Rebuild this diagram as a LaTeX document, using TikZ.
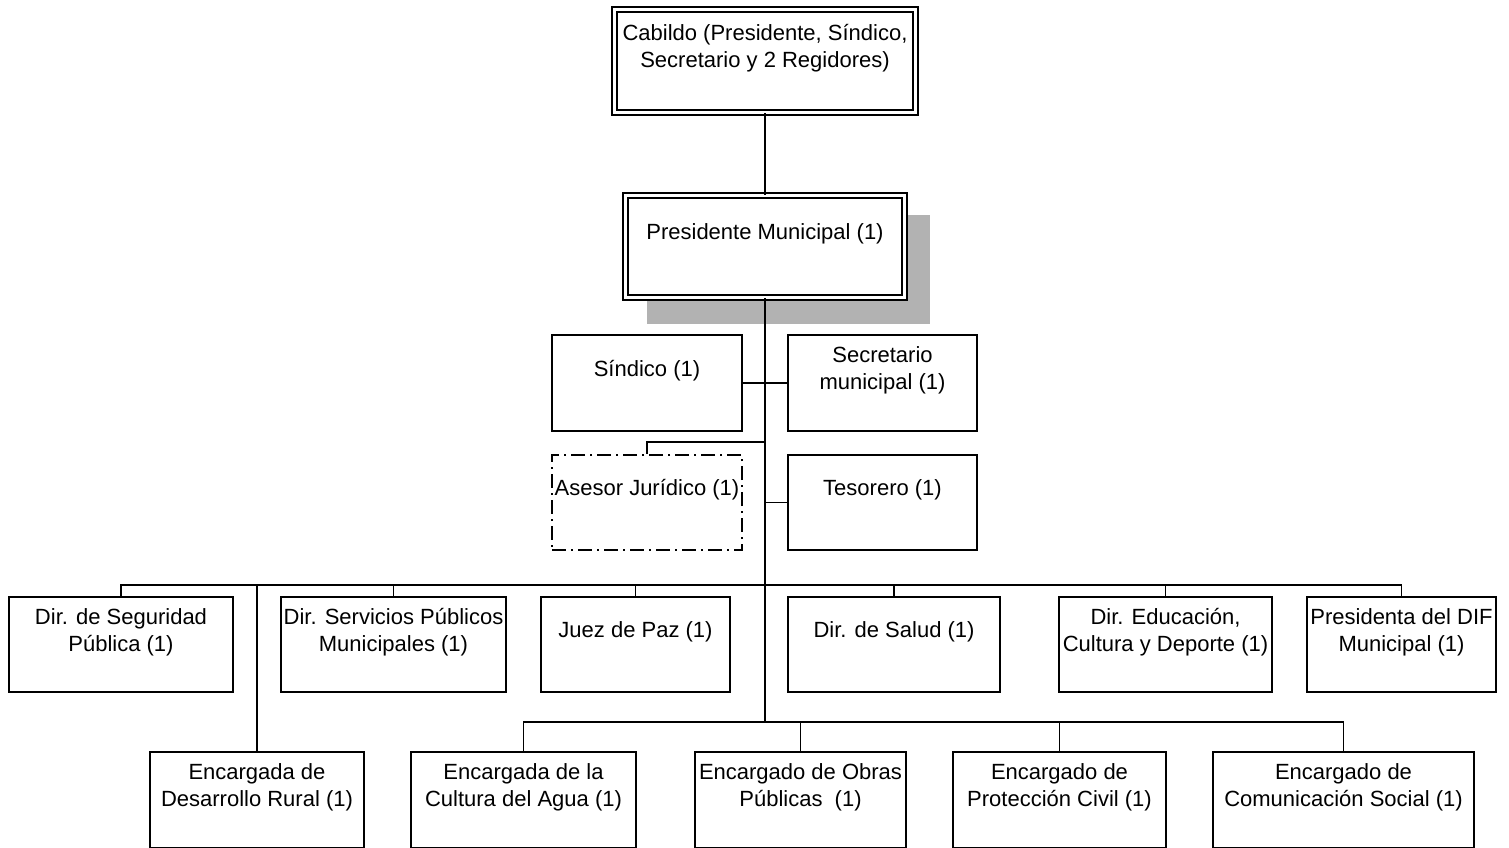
\documentclass[tikz,border=0pt]{standalone}
\usepackage{fontspec}
\setmainfont{Liberation Sans}
\usetikzlibrary{calc}
\def\boxtext#1#2#3{\parbox[c][#2][c]{#1}{\centering #3\par\kern12.5pt}}

\tikzset{
  box/.style={draw, fill=white, line width=0.9pt, inner sep=0pt, font=\fontsize{11}{13.5}\selectfont},
  headbox/.style={box, double, double distance=1.6pt},
  advisorbox/.style={box, dash pattern=on 7pt off 2.5pt on 1pt off 2.5pt},
  link/.style={line width=0.9pt},
}

\begin{document}
\begin{tikzpicture}[x=0.5pt, y=-0.5pt]
			%%%%% START %%%%%
			\useasboundingbox (0,0) rectangle (1509,847);
			\clip (0,0) rectangle (1509,847);
			
			\fill[gray!60] (647,215) rectangle (930,324);
			
			\node[headbox] (cabildo) at (765,61) {\boxtext{150.5pt}{51.5pt}{Cabildo (Presidente, Síndico,\\ Secretario y 2 Regidores)}};
			\node[headbox] (presidente) at (765,246.5) {\boxtext{139.5pt}{51pt}{Presidente Municipal (1)}};
			
			\node[box] (sindico) at (647,383) {\boxtext{95pt}{48pt}{Síndico (1)}};
			\node[box] (secretario) at (882.5,383) {\boxtext{94.5pt}{48pt}{Secretario\\ municipal (1)}};
			\node[advisorbox] (asesor) at (647,502.5) {\boxtext{95pt}{47.5pt}{Asesor Jurídico (1)}};
			\node[box] (tesorero) at (882.5,502.5) {\boxtext{94.5pt}{47.5pt}{Tesorero (1)}};
			
			\node[box] (seguridad) at (121,644.5) {\boxtext{112pt}{47.5pt}{Dir. de Seguridad\\ Pública (1)}};
			\node[box] (servicios) at (393.5,644.5) {\boxtext{112.5pt}{47.5pt}{Dir. Servicios Públicos\\ Municipales (1)}};
			\node[box] (juez) at (635.5,644.5) {\boxtext{94.5pt}{47.5pt}{Juez de Paz (1)}};
			\node[box] (salud) at (894,644.5) {\boxtext{106pt}{47.5pt}{Dir. de Salud (1)}};
			\node[box] (educacion) at (1165.5,644.5) {\boxtext{106.5pt}{47.5pt}{Dir. Educación,\\ Cultura y Deporte (1)}};
			\node[box] (dif) at (1401.5,644.5) {\boxtext{94.5pt}{47.5pt}{Presidenta del DIF\\ Municipal (1)}};
			
			\node[box] (rural) at (257,800) {\boxtext{107pt}{48pt}{Encargada de\\ Desarrollo Rural (1)}};
			\node[box] (agua) at (523.5,800) {\boxtext{112.5pt}{48pt}{Encargada de la\\ Cultura del Agua (1)}};
			\node[box] (obras) at (800.5,800) {\boxtext{105.5pt}{48pt}{Encargado de Obras\\ Públicas\ \ (1)}};
			\node[box] (proteccion) at (1059.5,800) {\boxtext{106.5pt}{48pt}{Encargado de\\ Protección Civil (1)}};
			\node[box] (comunicacion) at (1343.5,800) {\boxtext{130.5pt}{48pt}{Encargado de\\ Comunicación Social (1)}};
			
			\coordinate (asesorjoint) at (765,442);
			\coordinate (bus1) at (765,585);
			\coordinate (bus2) at (765,722);
			
			\draw[link] (cabildo) -- (presidente);
			\draw[link] (presidente.south) -- (bus2);
			\draw[link] (sindico) -- (secretario);
			\draw[link] (asesorjoint) -| (asesor.north);
			\draw[link] (tesorero.west) -- (tesorero.west -| bus1);
			\foreach \n in {seguridad,servicios,juez,salud,educacion,dif,rural}
				\draw[link] (\n.north) |- (bus1);
			\foreach \n in {agua,obras,proteccion,comunicacion}
				\draw[link] (\n.north) |- (bus2);
			
			%%%%% END %%%%%
\end{tikzpicture}
\end{document}
